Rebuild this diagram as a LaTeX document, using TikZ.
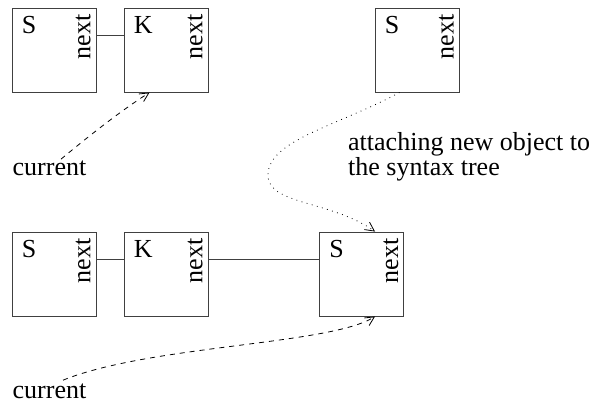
\documentclass[tikz,border=0pt]{standalone}
\usepackage{fontspec}
\setmainfont{Liberation Serif}
\usetikzlibrary{arrows.meta,calc}
\begin{document}
\begin{tikzpicture}[x=1pt,y=-1pt,
  box/.style={draw=black!75,line width=0.9pt,minimum width=84pt,minimum height=84pt,inner sep=0pt},
  lbl/.style={inner sep=0pt,font=\fontsize{26}{30}\selectfont},
  tip/.style={-{Straight Barb[length=9pt,width=9pt,line width=0.8pt]}},
  conn/.style={draw=black!75,line width=0.9pt}]
\useasboundingbox (0,0) rectangle (594,407);
% top row
\node[box] (s1) at (54,50) {};
\node[box] (k1) at (166,50) {};
\node[box] (s3) at (417,50) {};
% bottom row
\node[box] (s2) at (54,274) {};
\node[box] (k2) at (166,274) {};
\node[box] (s4) at (361.5,274) {};
\foreach \b/\l in {s1/S,k1/K,s3/S,s2/S,k2/K,s4/S}{
  \node[lbl,anchor=north west] (\b t) at ([xshift=10pt,yshift=-9pt]\b.north west) {\l};
  \node[lbl,rotate=90,anchor=south east] (\b n) at ([xshift=-5.5pt,yshift=-7pt]\b.north east) {next};
}
% connections
\draw[conn] ([yshift=-28pt]s1.north east) -- ([yshift=-28pt]k1.north west);
\draw[conn] ([yshift=-28pt]s2.north east) -- ([yshift=-28pt]k2.north west);
\draw[conn] ([yshift=-28pt]k2.north east) -- ([yshift=-28pt]s4.north west);
% labels
\node[lbl,anchor=base west] (cur1) at (12.5,175) {current};
\node[lbl,anchor=base west] (cur2) at (12.5,398) {current};
\node[lbl,anchor=base west] (att1) at (348,150) {attaching new object to};
\node[lbl,anchor=base west] (att2) at (348,175.5) {the syntax tree};
% arrows
\coordinate (c1) at ([xshift=11.5pt,yshift=1pt]cur1.north);
\coordinate (c2) at ([xshift=13.5pt,yshift=3pt]cur2.north);
\draw[black,line width=0.8pt,dash pattern=on 5pt off 5pt,tip] (c1) .. controls (90,135) and (122,110) .. ([xshift=26pt]k1.south west);
\draw[black,line width=0.8pt,dash pattern=on 5pt off 5pt,tip] (c2) .. controls (150,345) and (330,345) .. ([xshift=56pt]s4.south west);
\draw[black,line width=0.8pt,dash pattern=on 0.8pt off 4.5pt,tip] ([xshift=25pt]s3.south west) .. controls (340,125) and (268,140) .. (268,175) .. controls (268,205) and (330,200) .. ([xshift=56pt]s4.north west);
\end{tikzpicture}
\end{document}
